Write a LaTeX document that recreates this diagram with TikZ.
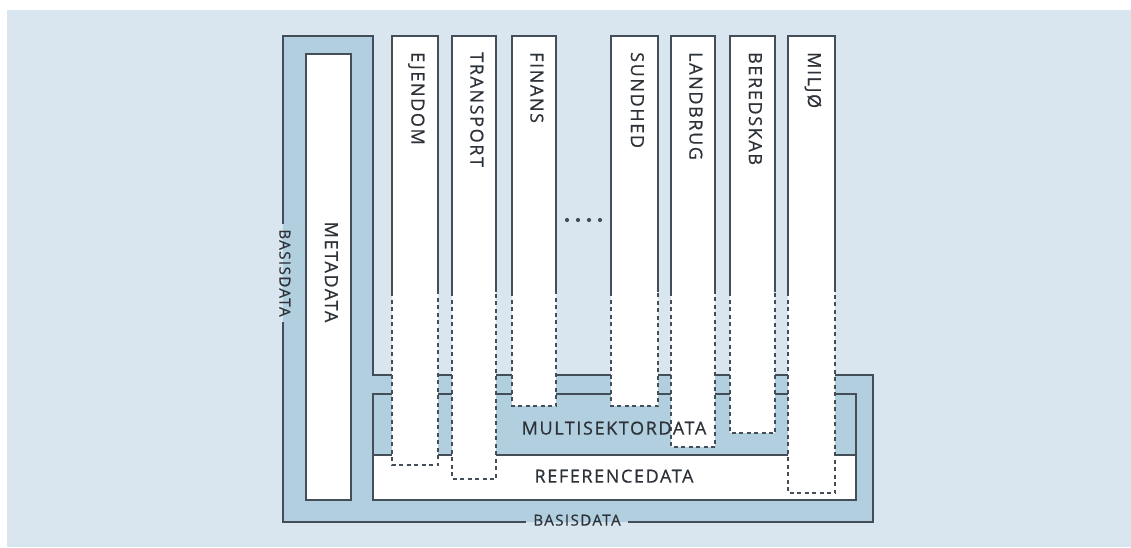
\documentclass[tikz,border=0pt]{standalone}
\usepackage{fontspec}
\setmainfont{Open Sans}
\definecolor{bgc}{RGB}{217,230,240}
\definecolor{midc}{RGB}{178,207,224}
\definecolor{lnc}{RGB}{68,78,88}
\definecolor{txc}{RGB}{45,50,56}
\tikzset{
  edge/.style={draw=lnc, line width=1.3pt},
  dashedge/.style={draw=lnc, line width=1.3pt, dash pattern=on 4pt off 3.5pt},
  lbl/.style={text=txc, font=\fontsize{18}{21}\selectfont\addfontfeature{LetterSpace=9,FakeBold=0.6}, inner sep=0pt, text height=0.714em, text depth=0pt},
  smalllbl/.style={lbl, font=\fontsize{15.2}{18}\selectfont\addfontfeature{LetterSpace=9,FakeBold=0.6}},
  whitebox/.style={fill=white, inner sep=0pt, outer sep=0pt},
  bluebox/.style={fill=midc, inner sep=0pt, outer sep=0pt},
}
\newcommand\sektor[5]{%
  \node[whitebox, minimum width={#3-#2}, minimum height={#4-36}] (#1) at ({(#2+#3)/2},{(36+#4)/2}) {};
  \draw[edge] (#1.west |- dz) -- (#1.north west) -- (#1.north east) -- (#1.east |- dz);
  \draw[dashedge] (#1.west |- dz) -- (#1.south west) -- (#1.south east) -- (#1.east |- dz);
  \node[lbl, rotate=-90, anchor=west] (#1t) at (#1.north |- tl) {#5};
}
\begin{document}
\begin{tikzpicture}[x=1pt,y=-1pt]
\useasboundingbox (0,0) rectangle (1131,547);
\fill[white] (0,0) rectangle (1131,547);
\fill[bgc] (7,10) rectangle (1131,547);
\coordinate (dz) at (0,292);
\coordinate (tl) at (0,52);
% Basisdata L shape
\coordinate (l1) at (283,36);
\coordinate (l2) at (373,36);
\coordinate (l3) at (373,375);
\coordinate (l4) at (873,375);
\coordinate (l5) at (873,522);
\coordinate (l6) at (283,522);
\fill[midc] (l1) -- (l2) -- (l3) -- (l4) -- (l5) -- (l6) -- cycle;
\node[smalllbl, rotate=-90, inner xsep=5pt] (bl) at (283,273) {BASISDATA};
\node[smalllbl, inner xsep=7pt] (bb) at (577,522) {BASISDATA};
\draw[edge] (bl.east) -- (l6) -- (bb.west);
\draw[edge] (bb.east) -- (l5) -- (l4) -- (l3) -- (l2) -- (l1) -- (bl.west);
% Metadata
\node[whitebox, draw=lnc, line width=1.3pt, minimum width=45, minimum height=446] (meta) at (328.5,277) {};
% Multisektordata / Referencedata
\node[bluebox, draw=lnc, line width=1.3pt, minimum width=483, minimum height=61] (multi) at (614.5,424.5) {};
\node[whitebox, draw=lnc, line width=1.3pt, minimum width=483, minimum height=45] (ref) at (614.5,477.5) {};
% Sector columns
\sektor{ej}{392}{438}{465}{EJENDOM}
\sektor{tr}{452}{496}{479}{TRANSPORT}
\sektor{fi}{512}{556}{406}{FINANS}
\sektor{su}{611}{658}{406}{SUNDHED}
\sektor{la}{671}{715}{447}{LANDBRUG}
\sektor{be}{730}{775}{433}{BEREDSKAB}
\sektor{mi}{788}{835}{493}{MILJØ}
% dots
\foreach \x in {567,578,589,600} \fill[lnc] (\x,220) circle (2.1);
% labels
\node[lbl, rotate=-90] (metat) at (meta.center |- 0,272) {METADATA};
\node[lbl] (multit) at (614,431) {MULTISEKTORDATA};
\node[lbl] (reft) at (614,479) {REFERENCEDATA};
\end{tikzpicture}
\end{document}
